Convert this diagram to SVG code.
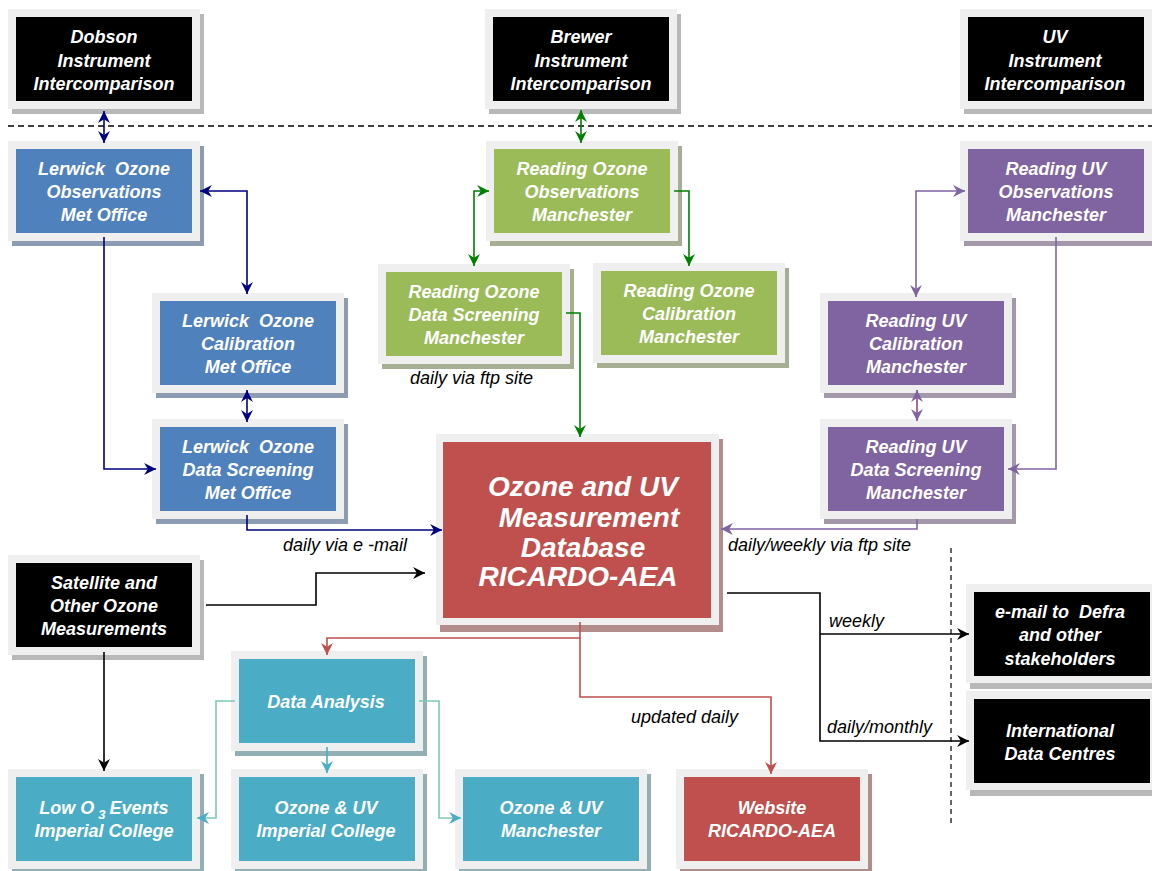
<svg xmlns="http://www.w3.org/2000/svg" width="1152" height="871" viewBox="0 0 1152 871">
<defs>
<style>
.frame{fill:#efefef}
.t{font-family:"Liberation Sans",Arial,sans-serif;font-weight:bold;font-style:italic;font-size:18px;fill:#fff;text-anchor:middle;white-space:pre}
.big{font-size:28px}
.lbl{font-family:"Liberation Sans",Arial,sans-serif;font-style:italic;font-size:18px;fill:#000}
.c{fill:none;stroke-width:1.6}
.navy{stroke:#000080}
.grn{stroke:#008000}
.pur{stroke:#8064a2}
.blk{stroke:#000}
.red{stroke:#c0504d}
.teal{stroke:#4bacc6}
.tl2{stroke:#7fc9b6}
</style>
<marker id="aNavy" viewBox="0 0 12 12" refX="11" refY="6" markerWidth="13" markerHeight="13" markerUnits="userSpaceOnUse" orient="auto-start-reverse"><path d="M0,0.5 L11,6 L0,11.5 L3.5,6 z" fill="#000080"/></marker>
<marker id="aGrn" viewBox="0 0 12 12" refX="11" refY="6" markerWidth="13" markerHeight="13" markerUnits="userSpaceOnUse" orient="auto-start-reverse"><path d="M0,0.5 L11,6 L0,11.5 L3.5,6 z" fill="#008000"/></marker>
<marker id="aPur" viewBox="0 0 12 12" refX="11" refY="6" markerWidth="13" markerHeight="13" markerUnits="userSpaceOnUse" orient="auto-start-reverse"><path d="M0,0.5 L11,6 L0,11.5 L3.5,6 z" fill="#8064a2"/></marker>
<marker id="aBlk" viewBox="0 0 12 12" refX="11" refY="6" markerWidth="13" markerHeight="13" markerUnits="userSpaceOnUse" orient="auto-start-reverse"><path d="M0,0.5 L11,6 L0,11.5 L3.5,6 z" fill="#000"/></marker>
<marker id="aRed" viewBox="0 0 12 12" refX="11" refY="6" markerWidth="13" markerHeight="13" markerUnits="userSpaceOnUse" orient="auto-start-reverse"><path d="M0,0.5 L11,6 L0,11.5 L3.5,6 z" fill="#c0504d"/></marker>
<marker id="aTeal" viewBox="0 0 12 12" refX="11" refY="6" markerWidth="13" markerHeight="13" markerUnits="userSpaceOnUse" orient="auto-start-reverse"><path d="M0,0.5 L11,6 L0,11.5 L3.5,6 z" fill="#4bacc6"/></marker>
</defs>
<rect width="1152" height="871" fill="#fff"/>

<!-- dashed separators -->
<line x1="8" y1="126" x2="1152" y2="126" stroke="#000" stroke-width="1.5" stroke-dasharray="6,4"/>
<line x1="951" y1="548" x2="951" y2="826" stroke="#000" stroke-width="1.2" stroke-dasharray="5,4"/>

<!-- nodes -->
<g id="dobson"><rect x="12" y="14" width="192" height="100" fill="#b8b8b8"/><rect class="frame" x="8" y="9" width="192" height="100"/><rect x="16" y="17" width="176" height="84" fill="#000"/>
<text class="t" x="104" y="43">Dobson</text><text class="t" x="104" y="66.5">Instrument</text><text class="t" x="104" y="90">Intercomparison</text></g>

<g id="brewer"><rect x="489" y="14" width="192" height="100" fill="#b8b8b8"/><rect class="frame" x="485" y="9" width="192" height="100"/><rect x="493" y="17" width="176" height="84" fill="#000"/>
<text class="t" x="581" y="43">Brewer</text><text class="t" x="581" y="66.5">Instrument</text><text class="t" x="581" y="90">Intercomparison</text></g>

<g id="uvinstr"><rect x="964" y="14" width="192" height="100" fill="#b8b8b8"/><rect class="frame" x="960" y="9" width="192" height="100"/><rect x="968" y="17" width="176" height="84" fill="#000"/>
<text class="t" x="1055" y="43">UV</text><text class="t" x="1055" y="66.5">Instrument</text><text class="t" x="1055" y="90">Intercomparison</text></g>

<g id="lerwick-obs"><rect x="12" y="146" width="192" height="100" fill="#8c9cb2"/><rect class="frame" x="8" y="141" width="192" height="100"/><rect x="16" y="149" width="176" height="84" fill="#4f81bd"/>
<text class="t" x="104" y="175" xml:space="preserve">Lerwick  Ozone</text><text class="t" x="104" y="198">Observations</text><text class="t" x="104" y="221">Met Office</text></g>

<g id="lerwick-cal"><rect x="156" y="298" width="192" height="100" fill="#8c9cb2"/><rect class="frame" x="152" y="293" width="192" height="100"/><rect x="160" y="301" width="176" height="84" fill="#4f81bd"/>
<text class="t" x="248" y="327" xml:space="preserve">Lerwick  Ozone</text><text class="t" x="248" y="350">Calibration</text><text class="t" x="248" y="373">Met Office</text></g>

<g id="lerwick-ds"><rect x="156" y="424" width="192" height="100" fill="#8c9cb2"/><rect class="frame" x="152" y="419" width="192" height="100"/><rect x="160" y="427" width="176" height="84" fill="#4f81bd"/>
<text class="t" x="248" y="453" xml:space="preserve">Lerwick  Ozone</text><text class="t" x="248" y="476">Data Screening</text><text class="t" x="248" y="499">Met Office</text></g>

<g id="reading-o3-obs"><rect x="490" y="146" width="192" height="100" fill="#a6ae94"/><rect class="frame" x="486" y="141" width="192" height="100"/><rect x="494" y="149" width="176" height="84" fill="#9bbb59"/>
<text class="t" x="582" y="175">Reading Ozone</text><text class="t" x="582" y="198">Observations</text><text class="t" x="582" y="221">Manchester</text></g>

<g id="reading-o3-ds"><rect x="382" y="269" width="192" height="100" fill="#a6ae94"/><rect class="frame" x="378" y="264" width="192" height="100"/><rect x="386" y="272" width="176" height="84" fill="#9bbb59"/>
<text class="t" x="474" y="298">Reading Ozone</text><text class="t" x="474" y="321">Data Screening</text><text class="t" x="474" y="344">Manchester</text></g>

<g id="reading-o3-cal"><rect x="597" y="268" width="192" height="100" fill="#a6ae94"/><rect class="frame" x="593" y="263" width="192" height="100"/><rect x="601" y="271" width="176" height="84" fill="#9bbb59"/>
<text class="t" x="689" y="297">Reading Ozone</text><text class="t" x="689" y="320">Calibration</text><text class="t" x="689" y="343">Manchester</text></g>

<g id="reading-uv-obs"><rect x="964" y="146" width="192" height="100" fill="#a298aa"/><rect class="frame" x="960" y="141" width="192" height="100"/><rect x="968" y="149" width="176" height="84" fill="#8064a2"/>
<text class="t" x="1056" y="175">Reading UV</text><text class="t" x="1056" y="198">Observations</text><text class="t" x="1056" y="221">Manchester</text></g>

<g id="reading-uv-cal"><rect x="824" y="298" width="192" height="100" fill="#a298aa"/><rect class="frame" x="820" y="293" width="192" height="100"/><rect x="828" y="301" width="176" height="84" fill="#8064a2"/>
<text class="t" x="916" y="327">Reading UV</text><text class="t" x="916" y="350">Calibration</text><text class="t" x="916" y="373">Manchester</text></g>

<g id="reading-uv-ds"><rect x="824" y="424" width="192" height="100" fill="#a298aa"/><rect class="frame" x="820" y="419" width="192" height="100"/><rect x="828" y="427" width="176" height="84" fill="#8064a2"/>
<text class="t" x="916" y="453">Reading UV</text><text class="t" x="916" y="476">Data Screening</text><text class="t" x="916" y="499">Manchester</text></g>

<g id="database"><rect x="440" y="439" width="283" height="193" fill="#b38d8c"/><rect class="frame" x="436" y="434" width="283" height="191"/><rect x="443" y="442" width="268" height="176" fill="#c0504d"/>
<text class="t big" x="583" y="496">Ozone and UV</text><text class="t big" x="589" y="527">Measurement</text><text class="t big" x="583" y="557">Database</text><text class="t big" x="578" y="586">RICARDO-AEA</text></g>

<g id="satellite"><rect x="12" y="560" width="192" height="100" fill="#b8b8b8"/><rect class="frame" x="8" y="555" width="192" height="100"/><rect x="16" y="563" width="176" height="84" fill="#000"/>
<text class="t" x="104" y="589">Satellite and</text><text class="t" x="104" y="612">Other Ozone</text><text class="t" x="104" y="635">Measurements</text></g>

<g id="email"><rect x="970" y="589" width="192" height="100" fill="#b8b8b8"/><rect class="frame" x="966" y="584" width="192" height="99"/><rect x="974" y="592" width="176" height="84" fill="#000"/>
<text class="t" x="1060" y="618" xml:space="preserve">e-mail to  Defra</text><text class="t" x="1060" y="641">and other</text><text class="t" x="1060" y="665">stakeholders</text></g>

<g id="international"><rect x="970" y="696" width="192" height="100" fill="#b8b8b8"/><rect class="frame" x="966" y="691" width="192" height="99"/><rect x="974" y="699" width="176" height="84" fill="#000"/>
<text class="t" x="1060" y="737">International</text><text class="t" x="1060" y="760">Data Centres</text></g>

<g id="data-analysis"><rect x="235" y="656" width="192" height="100" fill="#93afb6"/><rect class="frame" x="231" y="651" width="192" height="100"/><rect x="239" y="659" width="176" height="84" fill="#4bacc6"/>
<text class="t" x="326" y="708">Data Analysis</text></g>

<g id="low-o3"><rect x="12" y="774" width="192" height="100" fill="#93afb6"/><rect class="frame" x="8" y="769" width="192" height="100"/><rect x="16" y="777" width="176" height="84" fill="#4bacc6"/>
<text class="t" x="104" y="814">Low O<tspan font-size="13" dx="4" dy="5">3</tspan><tspan dx="4" dy="-5">Events</tspan></text><text class="t" x="104" y="837">Imperial College</text></g>

<g id="ozone-uv-imperial"><rect x="235" y="774" width="192" height="100" fill="#93afb6"/><rect class="frame" x="231" y="769" width="192" height="100"/><rect x="239" y="777" width="176" height="84" fill="#4bacc6"/>
<text class="t" x="326" y="814">Ozone &amp; UV</text><text class="t" x="326" y="837">Imperial College</text></g>

<g id="ozone-uv-manchester"><rect x="459" y="774" width="192" height="100" fill="#93afb6"/><rect class="frame" x="455" y="769" width="192" height="100"/><rect x="463" y="777" width="176" height="84" fill="#4bacc6"/>
<text class="t" x="551" y="814">Ozone &amp; UV</text><text class="t" x="551" y="837">Manchester</text></g>

<g id="website"><rect x="680" y="774" width="192" height="100" fill="#b38d8c"/><rect class="frame" x="676" y="769" width="192" height="100"/><rect x="684" y="777" width="176" height="84" fill="#c0504d"/>
<text class="t" x="772" y="814">Website</text><text class="t" x="772" y="837">RICARDO-AEA</text></g>

<!-- connectors -->
<g id="connectors">
<path class="c navy" d="M104 111 V143" marker-start="url(#aNavy)" marker-end="url(#aNavy)"/>
<path class="c navy" d="M247 294 V191 H200" marker-start="url(#aNavy)" marker-end="url(#aNavy)"/>
<path class="c navy" d="M104 237 V469 H156" marker-end="url(#aNavy)"/>
<path class="c navy" d="M247 390 V422" marker-start="url(#aNavy)" marker-end="url(#aNavy)"/>
<path class="c navy" d="M247 515 V530 H442" marker-end="url(#aNavy)"/>

<path class="c grn" d="M581 110 V143" marker-start="url(#aGrn)" marker-end="url(#aGrn)"/>
<path class="c grn" d="M489 191 H474 V266" marker-start="url(#aGrn)" marker-end="url(#aGrn)"/>
<path class="c grn" d="M674 191 H689 V266" marker-end="url(#aGrn)"/>
<path class="c grn" d="M566 313 H580 V437" marker-end="url(#aGrn)"/>

<path class="c pur" d="M965 191 H916 V297" marker-start="url(#aPur)" marker-end="url(#aPur)"/>
<path class="c pur" d="M1056 237 V469 H1008" marker-end="url(#aPur)"/>
<path class="c" stroke="#9b3f86" d="M917 390 V421" marker-start="url(#aPur)" marker-end="url(#aPur)"/>
<path class="c pur" d="M917 519 V529 H721" marker-end="url(#aPur)"/>

<path class="c blk" d="M206 605 H316 V573 H425" marker-end="url(#aBlk)"/>
<path class="c blk" d="M104 652 V771" marker-end="url(#aBlk)"/>
<path class="c blk" d="M727 593 H820 V741 H969" marker-end="url(#aBlk)"/>
<path class="c blk" d="M820 634 H969" marker-end="url(#aBlk)"/>

<path class="c red" d="M580 622 V638 H327 V655" marker-end="url(#aRed)"/>
<path class="c red" d="M580 638 V697 H771 V774" marker-end="url(#aRed)"/>

<path class="c tl2" d="M235 701 H216 V818 H197" marker-end="url(#aTeal)"/>
<path class="c teal" d="M327 747 V773" marker-end="url(#aTeal)"/>
<path class="c tl2" d="M419 701 H439 V818 H461" marker-end="url(#aTeal)"/>
</g>

<!-- labels -->
<text class="lbl" x="283" y="551">daily via e -mail</text>
<text class="lbl" x="410" y="384">daily via ftp site</text>
<text class="lbl" x="728" y="551">daily/weekly via ftp site</text>
<text class="lbl" x="631" y="723">updated daily</text>
<text class="lbl" x="829" y="627">weekly</text>
<text class="lbl" x="827" y="733">daily/monthly</text>
</svg>
